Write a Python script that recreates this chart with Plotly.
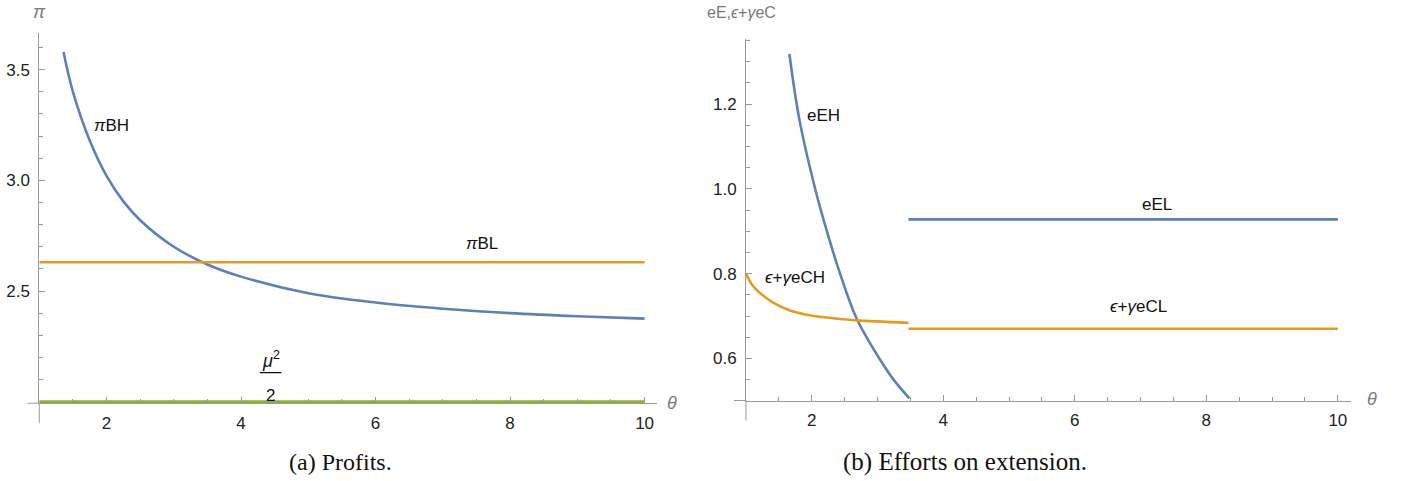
import plotly.graph_objects as go

# ---------- data ----------
theta_bh = [1.36, 1.5, 1.75, 2.0, 2.25, 2.5, 3.0, 3.5, 4.0, 5.0, 6.0, 7.0, 8.0, 9.0, 10.0]
pi_bh = [3.58, 3.40, 3.18, 3.02, 2.905, 2.82, 2.70, 2.62, 2.565, 2.49, 2.448, 2.42, 2.40, 2.386, 2.375]
theta_bl = [1.0, 10.0]
pi_bl = [2.63, 2.63]
theta_mu = [1.0, 10.0]
mu_half = [2.0, 2.0]

theta_eeh = [1.66, 1.81, 2.06, 2.24, 2.42, 2.68, 3.04, 3.25, 3.485]
eeh = [1.318, 1.165, 0.995, 0.895, 0.805, 0.695, 0.597, 0.549, 0.506]
theta_ech = [1.0, 1.1, 1.21, 1.42, 1.67, 1.92, 2.43, 2.68, 3.47]
ech = [0.80, 0.772, 0.755, 0.731, 0.713, 0.703, 0.693, 0.690, 0.684]
theta_eel = [3.47, 10.0]
eel = [0.928, 0.928]
theta_ecl = [3.47, 10.0]
ecl = [0.670, 0.670]

x_ticks = [2, 4, 6, 8, 10]
y1_ticks = [2.5, 3.0, 3.5]
y1_text = ["2.5", "3.0", "3.5"]
y2_ticks = [0.6, 0.8, 1.0, 1.2]
y2_text = ["0.6", "0.8", "1.0", "1.2"]

BLUE = "#5E81B5"
ORANGE = "#E19C24"
GREEN = "#8FB032"
AXIS = "#9a9a9a"
LBL = "#7a7a7a"
FONT = "Liberation Sans, Arial, sans-serif"
FS = 17

fig = go.Figure()
lw = 2.6
fig.add_trace(go.Scatter(x=theta_bh, y=pi_bh, mode="lines", line=dict(color=BLUE, width=lw, shape="spline", smoothing=1.0), xaxis="x", yaxis="y"))
fig.add_trace(go.Scatter(x=theta_bl, y=pi_bl, mode="lines", line=dict(color=ORANGE, width=lw), xaxis="x", yaxis="y"))
fig.add_trace(go.Scatter(x=theta_mu, y=mu_half, mode="lines", line=dict(color=GREEN, width=3), xaxis="x", yaxis="y"))

fig.add_trace(go.Scatter(x=theta_eeh, y=eeh, mode="lines", line=dict(color=BLUE, width=lw, shape="spline", smoothing=1.0), xaxis="x2", yaxis="y2"))
fig.add_trace(go.Scatter(x=theta_ech, y=ech, mode="lines", line=dict(color=ORANGE, width=lw, shape="spline", smoothing=1.0), xaxis="x2", yaxis="y2"))
fig.add_trace(go.Scatter(x=theta_eel, y=eel, mode="lines", line=dict(color=BLUE, width=lw), xaxis="x2", yaxis="y2"))
fig.add_trace(go.Scatter(x=theta_ecl, y=ecl, mode="lines", line=dict(color=ORANGE, width=lw), xaxis="x2", yaxis="y2"))

W, H = 1402, 481
def dom_x(a, b):
    return [a / W, b / W]
def dom_y(bottom_px, top_px):
    return [1 - bottom_px / H, 1 - top_px / H]

common_x = dict(showgrid=False, zeroline=False, showline=True, linecolor=AXIS, linewidth=1,
                ticks="inside", ticklen=6, tickcolor=AXIS, tickwidth=1,
                tickfont=dict(family=FONT, size=FS, color="#222"), ticklabelstandoff=4,
                minor=dict(ticks="inside", ticklen=4, tickcolor=AXIS, dtick=0.5, tick0=1.0))
common_y = dict(showgrid=False, zeroline=False, showline=True, linecolor=AXIS, linewidth=1,
                ticks="inside", ticklen=6, tickcolor=AXIS, tickwidth=1,
                tickfont=dict(family=FONT, size=FS, color="#222"), ticklabelstandoff=5)

fig.update_layout(
    width=W, height=H, margin=dict(l=0, r=0, t=0, b=0),
    paper_bgcolor="white", plot_bgcolor="white", showlegend=False,
    xaxis=dict(common_x, domain=dom_x(39.3, 656.7), range=[1.0, 10.18], tickvals=x_ticks, anchor="y"),
    yaxis=dict(common_y, domain=dom_y(403.2, 33), range=[1.993, 3.666], tickvals=y1_ticks, ticktext=y1_text, anchor="x",
               minor=dict(ticks="inside", ticklen=4, tickcolor=AXIS, dtick=0.1, tick0=2.0)),
    xaxis2=dict(common_x, domain=dom_x(746, 1351), range=[1.0, 10.2], tickvals=x_ticks, anchor="y2"),
    yaxis2=dict(common_y, domain=dom_y(400.5, 38.5), range=[0.501, 1.3545], tickvals=y2_ticks, ticktext=y2_text, anchor="x2",
                minor=dict(ticks="inside", ticklen=4, tickcolor=AXIS, dtick=0.05, tick0=0.5)),
)

# axis-line overhangs (Mathematica style: axes cross slightly past the origin)
for xd, yd, wpx, hpx in (("x domain", "y domain", 617.4, 370.2), ("x2 domain", "y2 domain", 605, 362)):
    fig.add_shape(type="line", xref=xd, yref=yd, x0=-12 / wpx, x1=0, y0=0, y1=0,
                  line=dict(color=AXIS, width=1), layer="below")
    fig.add_shape(type="line", xref=xd, yref=yd, x0=0, x1=0, y0=-20 / hpx, y1=0,
                  line=dict(color=AXIS, width=1), layer="below")

def lab(x, y, text, xr="x", yr="y", size=FS, color="#111"):
    fig.add_annotation(x=x, y=y, xref=xr, yref=yr, text=text, showarrow=False,
                       font=dict(family=FONT, size=size, color=color), xanchor="center", yanchor="middle")

def plab(px, py, text, size=FS, color=LBL):
    fig.add_annotation(x=px / W, y=1 - py / H, xref="paper", yref="paper", text=text, showarrow=False,
                       font=dict(family=FONT, size=size, color=color), xanchor="center", yanchor="middle")

# left panel labels
lab(2.077, 3.25, "<i>π</i>BH")
lab(7.58, 2.716, "<i>π</i>BL")
lab(4.445, 2.19, "<i>μ</i><sup>2</sup>", size=18)
lab(4.445, 2.03, "2")
fig.add_shape(type="line", xref="x", yref="y", x0=4.28, x1=4.60, y0=2.131, y1=2.131, line=dict(color="#111", width=1.3))
plab(39, 12, "<i>π</i>", size=18)
plab(672, 403, "<i>θ</i>", size=18)

# right panel labels
lab(2.171, 1.172, "eEH", "x2", "y2")
lab(1.745, 0.790, "<i>ϵ</i>+<i>γ</i>eCH", "x2", "y2")
lab(7.246, 0.962, "eEL", "x2", "y2")
lab(6.97, 0.723, "<i>ϵ</i>+<i>γ</i>eCL", "x2", "y2")
plab(741, 13, "eE,<i>ϵ</i>+<i>γ</i>eC", size=16)
plab(1372, 399, "<i>θ</i>", size=18)

# captions
SERIF = "Liberation Serif, Times New Roman, serif"
fig.add_annotation(x=340 / W, y=1 - 462 / H, xref="paper", yref="paper", text="(a) Profits.", showarrow=False,
                   font=dict(family=SERIF, size=24, color="#111"), xanchor="center", yanchor="middle")
fig.add_annotation(x=965 / W, y=1 - 462 / H, xref="paper", yref="paper", text="(b) Efforts on extension.", showarrow=False,
                   font=dict(family=SERIF, size=25, color="#111"), xanchor="center", yanchor="middle")

fig.write_html("out.html")
